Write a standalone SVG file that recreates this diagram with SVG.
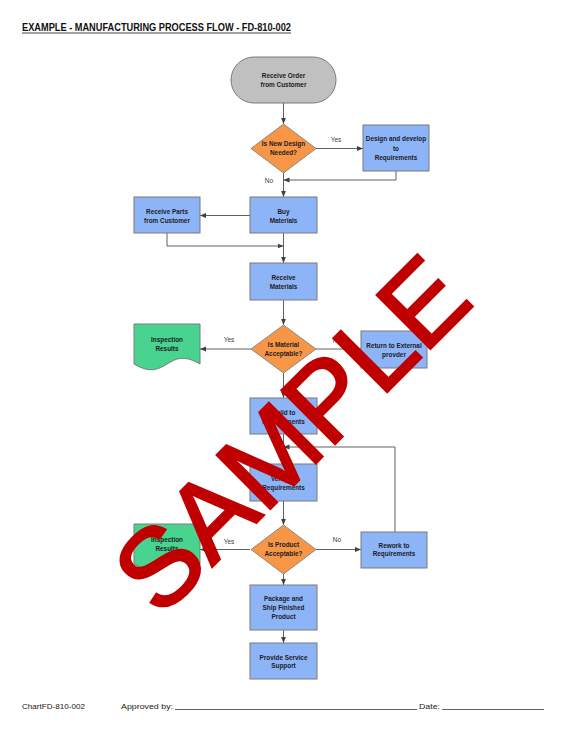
<svg xmlns="http://www.w3.org/2000/svg" width="567" height="732" viewBox="0 0 567 732">
<defs>
<style>
.box{fill:#8EB4F8;stroke:#7a7a7a;stroke-width:1}
.dia{fill:#F79646;stroke:#8a8a8a;stroke-width:1}
.doc{fill:#48D48E;stroke:#7a7a7a;stroke-width:1}
.term{fill:#C0C0C0;stroke:#7a7a7a;stroke-width:1}
.t{font-family:"Liberation Sans",Arial,sans-serif;font-weight:bold;font-size:6.4px;fill:#1c1c24;text-anchor:middle}
.lbl{font-family:"Liberation Sans",Arial,sans-serif;font-size:6.5px;fill:#404040;text-anchor:middle}
.c{fill:none;stroke:#606060;stroke-width:1}
.a{marker-end:url(#ah)}
.ft{font-family:"Liberation Sans",Arial,sans-serif;font-size:8px;fill:#202020}
</style>
<marker id="ah" viewBox="0 0 10 10" refX="10" refY="5" markerWidth="6" markerHeight="6" markerUnits="userSpaceOnUse" orient="auto">
<path d="M0,1 L10,5 L0,9 z" fill="#404040"/>
</marker>
</defs>
<rect width="567" height="732" fill="#ffffff"/>

<g id="title">
<text x="22" y="31" font-family="'Liberation Sans',Arial,sans-serif" font-weight="bold" font-size="10.5" fill="#111" textLength="269" lengthAdjust="spacingAndGlyphs">EXAMPLE - MANUFACTURING PROCESS FLOW - FD-810-002</text>
<line x1="22" y1="33" x2="291" y2="33" stroke="#111" stroke-width="0.8"/>
</g>

<g id="connectors">
<path class="c a" d="M283.5,103 V124"/>
<path class="c a" d="M316,148.5 H363"/>
<path class="c a" d="M396,171 V180 H283.5"/>
<path class="c a" d="M283.5,173 V197"/>
<path class="c a" d="M250,215.5 H200"/>
<path class="c a" d="M167,233 V246 H283.5"/>
<path class="c a" d="M283.5,233 V263"/>
<path class="c a" d="M283.5,300 V325"/>
<path class="c a" d="M316,349 H361"/>
<path class="c a" d="M251,349 H200"/>
<path class="c a" d="M283.5,373 V398"/>
<path class="c a" d="M283.5,434 V464"/>
<path class="c a" d="M395,532 V447 H283.5"/>
<path class="c a" d="M283.5,501 V525"/>
<path class="c a" d="M250,549.5 H200"/>
<path class="c a" d="M316,549.5 H361"/>
<path class="c a" d="M283.5,574 V585"/>
<path class="c a" d="M283.5,630 V643"/>
<text class="lbl" x="336" y="142">Yes</text>
<text class="lbl" x="269" y="183">No</text>
<text class="lbl" x="229" y="342">Yes</text>
<text class="lbl" x="337" y="343">No</text>
<text class="lbl" x="229" y="544">Yes</text>
<text class="lbl" x="337" y="542">No</text>
</g>

<g id="n_receive_order">
<rect class="term" x="231" y="57" width="105" height="46" rx="23"/>
<text class="t" x="283.5" y="78">Receive Order</text>
<text class="t" x="283.5" y="86.5">from Customer</text>
</g>

<g id="n_new_design">
<path class="dia" d="M283.5,124 L316,148.5 L283.5,173 L251,148.5 Z"/>
<text class="t" x="283.5" y="145.5">Is New Design</text>
<text class="t" x="283.5" y="155">Needed?</text>
</g>

<g id="n_design_develop">
<rect class="box" x="363" y="125" width="66" height="46"/>
<text class="t" x="396" y="141">Design and develop</text>
<text class="t" x="396" y="150.5">to</text>
<text class="t" x="396" y="159.5">Requirements</text>
</g>

<g id="n_buy">
<rect class="box" x="250" y="197" width="67" height="36"/>
<text class="t" x="283.5" y="214">Buy</text>
<text class="t" x="283.5" y="222.5">Materials</text>
</g>

<g id="n_receive_parts">
<rect class="box" x="134" y="197" width="66" height="36"/>
<text class="t" x="167" y="214">Receive Parts</text>
<text class="t" x="167" y="222.5">from Customer</text>
</g>

<g id="n_receive_materials">
<rect class="box" x="250" y="263" width="67" height="37"/>
<text class="t" x="283.5" y="280">Receive</text>
<text class="t" x="283.5" y="288.5">Materials</text>
</g>

<g id="n_material_ok">
<path class="dia" d="M283.5,325 L316,349 L283.5,373 L251,349 Z"/>
<text class="t" x="283.5" y="347">Is Material</text>
<text class="t" x="283.5" y="355.5">Acceptable?</text>
</g>

<g id="n_return">
<rect class="box" x="361" y="331" width="66" height="37"/>
<text class="t" x="394" y="347.5">Return to External</text>
<text class="t" x="394" y="356.5">provder</text>
</g>

<g id="n_inspection1">
<path class="doc" d="M134,324 H200 V364 C167,344 167,384 134,364 Z"/>
<text class="t" x="167" y="341.5">Inspection</text>
<text class="t" x="167" y="350.5">Results</text>
</g>

<g id="n_build">
<rect class="box" x="250" y="398" width="67" height="36"/>
<text class="t" x="283.5" y="415">Build to</text>
<text class="t" x="283.5" y="423.5">Requirements</text>
</g>

<g id="n_verify">
<rect class="box" x="250" y="464" width="67" height="37"/>
<text class="t" x="283.5" y="480.5">Verify to</text>
<text class="t" x="283.5" y="489.5">Requirements</text>
</g>

<g id="n_product_ok">
<path class="dia" d="M283.5,525 L316,549.5 L283.5,574 L251,549.5 Z"/>
<text class="t" x="283.5" y="547">Is Product</text>
<text class="t" x="283.5" y="555.5">Acceptable?</text>
</g>

<g id="n_rework">
<rect class="box" x="361" y="532" width="66" height="36"/>
<text class="t" x="394" y="547.5">Rework to</text>
<text class="t" x="394" y="556">Requirements</text>
</g>

<g id="n_inspection2">
<path class="doc" d="M134,524 H200 V564 C167,544 167,584 134,564 Z"/>
<text class="t" x="167" y="541.5">Inspection</text>
<text class="t" x="167" y="551">Results</text>
</g>

<g id="n_package">
<rect class="box" x="250" y="585" width="67" height="45"/>
<text class="t" x="283.5" y="601">Package and</text>
<text class="t" x="283.5" y="609.5">Ship Finished</text>
<text class="t" x="283.5" y="618.5">Product</text>
</g>

<g id="n_service">
<rect class="box" x="250" y="643" width="67" height="36"/>
<text class="t" x="283.5" y="659.5">Provide Service</text>
<text class="t" x="283.5" y="668">Support</text>
</g>

<g id="footer">
<text class="ft" x="22" y="709" textLength="63" lengthAdjust="spacingAndGlyphs">ChartFD-810-002</text>
<text class="ft" x="121" y="709" textLength="52" lengthAdjust="spacingAndGlyphs">Approved by:</text>
<line x1="175" y1="709.5" x2="417" y2="709.5" stroke="#202020" stroke-width="0.7"/>
<text class="ft" x="419" y="709" textLength="21" lengthAdjust="spacingAndGlyphs">Date:</text>
<line x1="442" y1="709.5" x2="544" y2="709.5" stroke="#202020" stroke-width="0.7"/>
</g>

<g id="watermark">
<text x="0" y="0" transform="translate(318,461) rotate(-45)" font-family="'Liberation Sans',Arial,sans-serif" font-size="110" fill="#C00000" stroke="#C00000" stroke-width="2.5" stroke-linejoin="miter" text-anchor="middle">SAMPLE</text>
</g>
</svg>
